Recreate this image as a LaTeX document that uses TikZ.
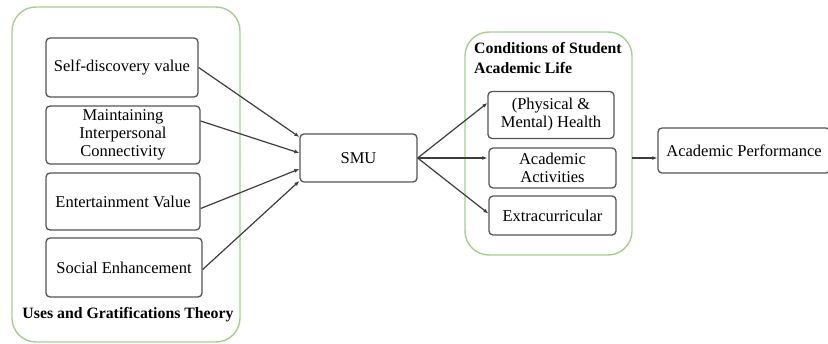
\documentclass[tikz,border=0pt]{standalone}
\usepackage{fontspec}
\setmainfont{Liberation Serif}
\usetikzlibrary{positioning,arrows.meta}
\definecolor{framegreen}{RGB}{165,208,140}
\definecolor{boxgray}{RGB}{85,85,85}
\definecolor{linegray}{RGB}{60,60,60}

\begin{document}
\begin{tikzpicture}[x=1pt,y=-1pt,>={Latex[length=5pt,width=4pt]},
        font=\fontsize{16.5}{18}\selectfont]
        \tikzset{
            group/.style={draw=framegreen,line width=1.4pt,rounded corners=24pt},
            factor/.style={draw=boxgray,line width=1.3pt,rounded corners=4pt,
                inner sep=0pt,align=center},
            link/.style={->,draw=linegray,line width=1.2pt}
        }
        \useasboundingbox (0,0) rectangle (828,343);

        % draw the two green groups
        \draw[group] (12,7) rectangle (240,342);
        \draw[group] (465,32) rectangle (632,255);

        % the gratification factors
        \node[factor,minimum width=152pt,minimum height=59pt] (sdv) at (122,67.5) {Self-discovery value};
        \node[factor,minimum width=154pt,minimum height=58pt] (mic) at (123,135) {Maintaining\\Interpersonal\\Connectivity};
        \node[factor,minimum width=154pt,minimum height=57pt] (env) at (123,201.5) {Entertainment Value};
        \node[factor,minimum width=156pt,minimum height=59pt] (sen) at (124,267.5) {Social Enhancement};
        \node[font=\fontsize{15.8}{18}\selectfont\bfseries] (ugt) at (128,315) {Uses and Gratifications Theory};

        % the social media use
        \node[factor,minimum width=117pt,minimum height=48pt] (smu) at (358.5,158) {SMU};

        % the conditions of academic life
        \node[font=\fontsize{15.8}{20}\selectfont\bfseries,align=left,anchor=north west,inner sep=0pt] (csal) at (474,42) {Conditions of Student\\Academic Life};
        \node[factor,minimum width=126pt,minimum height=47pt] (hlt) at (551,115) {(Physical \&\\Mental) Health};
        \node[factor,minimum width=127pt,minimum height=40pt] (aca) at (552.5,168) {Academic\\Activities};
        \node[factor,minimum width=127pt,minimum height=39pt] (ext) at (552.5,215.5) {Extracurricular};

        % the outcome, cut by the right border
        \node[factor,minimum width=172pt,minimum height=45pt] (acp) at (744,150.5) {Academic Performance};
        \coordinate (csalout) at (632,158);

        % draw the arrows into SMU (yshift is upwards, the y axis is not)
        \draw[link] (sdv.east) -- ([yshift=21pt]smu.west);
        \draw[link] ([yshift=14pt]mic.east) -- ([yshift=5pt]smu.west);
        \draw[link] ([yshift=-7pt]env.east) -- ([yshift=-11pt]smu.west);
        \draw[link] ([yshift=-2pt]sen.east) -- ([yshift=-23pt]smu.west);

        % draw the arrows out of SMU
        \draw[link] (smu.east) -- ([yshift=12pt]hlt.west);
        \draw[link] (smu.east) -- (hlt.west |- smu.east);
        \draw[link] (smu.east) -- ([yshift=2pt]ext.west);

        % draw the arrow to the performance
        \draw[link] (csalout) -- (acp.west |- csalout);
\end{tikzpicture}
\end{document}
